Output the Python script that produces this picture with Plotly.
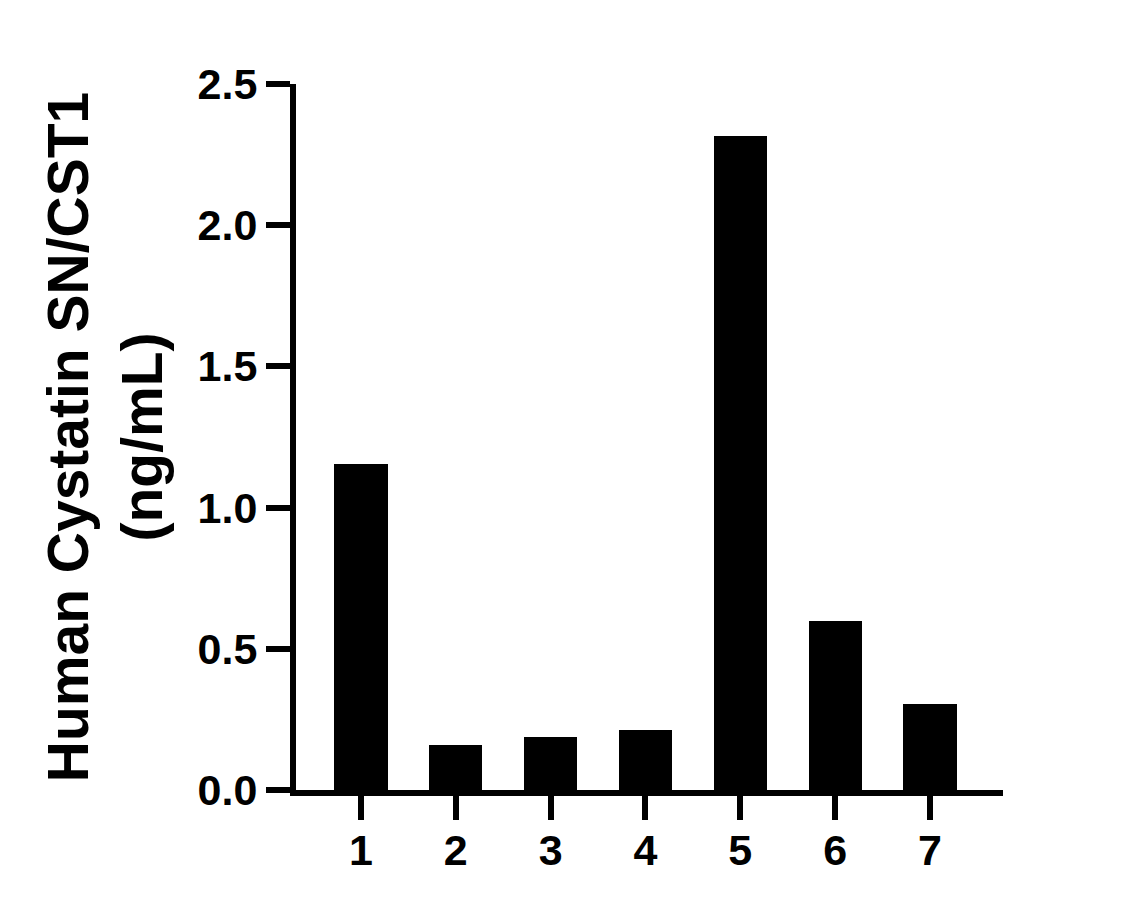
import plotly.graph_objects as go

# sample numbers on the x axis and measured concentration
samples = [1, 2, 3, 4, 5, 6, 7]
conc = [1.155, 0.158, 0.187, 0.212, 2.316, 0.600, 0.304]
y_ticks = [0.0, 0.5, 1.0, 1.5, 2.0, 2.5]
y_ticktext = ["0.0", "0.5", "1.0", "1.5", "2.0", "2.5"]

font_family = "Liberation Sans, Arial, sans-serif"

fig = go.Figure(go.Bar(x=samples, y=conc, width=0.56,
                       marker=dict(color="black", line=dict(width=0))))

# page body has an 8px margin, so the figure is 8px smaller and margins are shifted
fig.update_xaxes(
    range=[0.315, 7.77], tickvals=samples, ticktext=[str(s) for s in samples],
    showline=True, linecolor="black", linewidth=6,
    ticks="outside", ticklen=24, tickwidth=6, tickcolor="black",
    ticklabelstandoff=-7,
    showgrid=False, zeroline=False,
    tickfont=dict(family=font_family, size=43, color="black", weight="bold"),
)
fig.update_yaxes(
    range=[0, 2.5], tickvals=y_ticks, ticktext=y_ticktext,
    showline=True, linecolor="black", linewidth=6,
    ticks="outside", ticklen=24, tickwidth=6, tickcolor="black",
    showgrid=False, zeroline=False,
    tickfont=dict(family=font_family, size=43, color="black", weight="bold"),
    title=dict(text="Human Cystatin SN/CST1<br>(ng/mL)", standoff=19,
               font=dict(family=font_family, size=57, color="black", weight="bold")),
)
fig.update_layout(
    width=1131, height=900,
    margin=dict(l=288, r=136, t=76, b=118),
    plot_bgcolor="white", paper_bgcolor="white",
    showlegend=False, bargap=0,
)

fig.write_html("out.html")
